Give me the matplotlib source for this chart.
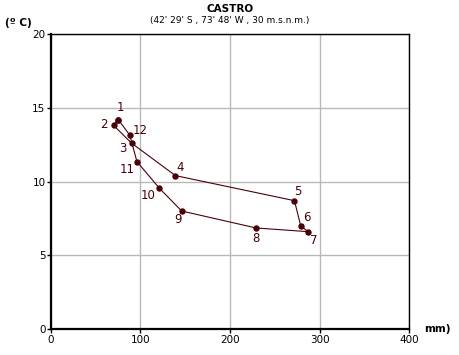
import matplotlib.pyplot as plt

# datos mensuales Castro
meses = ['1', '2', '3', '4', '5', '6', '7', '8', '9', '10', '11', '12']
precip = [75, 70, 90, 139, 272, 279, 287, 229, 146, 121, 96, 88]
temp = [14.2, 13.8, 12.6, 10.4, 8.7, 7.0, 6.6, 6.85, 8.0, 9.55, 11.35, 13.15]

# desplazamiento de las etiquetas (en puntos)
offs = [(1.5, 9), (-7, 1), (-6, -3.5), (3.5, 5.5), (2.7, 6.5), (4.3, 6),
        (4.5, -6.5), (0, -7.5), (-2.3, -6), (-8.3, -5), (-6.8, -5.7),
        (7.5, 3.2)]

color = '#4a0008'

fig = plt.figure(figsize=(4.6, 3.55), dpi=100)
ax = fig.add_axes([51 / 460, 26 / 355, 358 / 460, 295 / 355])

ax.plot(precip + precip[:1], temp + temp[:1], color=color, lw=0.8,
        marker='o', ms=3.6, zorder=3)
for m, x, y, (dx, dy) in zip(meses, precip, temp, offs):
    ax.annotate(m, (x, y), xytext=(dx, dy), textcoords='offset points',
                ha='center', va='center', fontsize=8.5, color=color)

ax.set_xlim(0, 400)
ax.set_ylim(0, 20)
ax.set_xticks([0, 100, 200, 300, 400])
ax.set_yticks([0, 5, 10, 15, 20])
ax.grid(color='#b8b8b8', lw=1)
ax.set_axisbelow(True)
ax.tick_params(labelsize=7.5, length=3, width=1, pad=1)
for s in ['left', 'bottom']:
    ax.spines[s].set_linewidth(1.6)
for s in ['top', 'right']:
    ax.spines[s].set_linewidth(1)

fig.text(0.5 * (51 + 409) / 460, 1 - 9 / 355, 'CASTRO', ha='center',
         va='center', fontsize=7.5, fontweight='bold')
fig.text(0.5 * (51 + 409) / 460, 1 - 20 / 355,
         "(42' 29' S , 73' 48' W , 30 m.s.n.m.)", ha='center',
         va='center', fontsize=6.5)
fig.text(5 / 460, 1 - 23 / 355, '(º C)', ha='left', va='center',
         fontsize=7.5, fontweight='bold')
fig.text(424 / 460, 1 - 329 / 355, 'mm)', ha='left', va='center',
         fontsize=7.5, fontweight='bold')

fig.savefig('out.png')
